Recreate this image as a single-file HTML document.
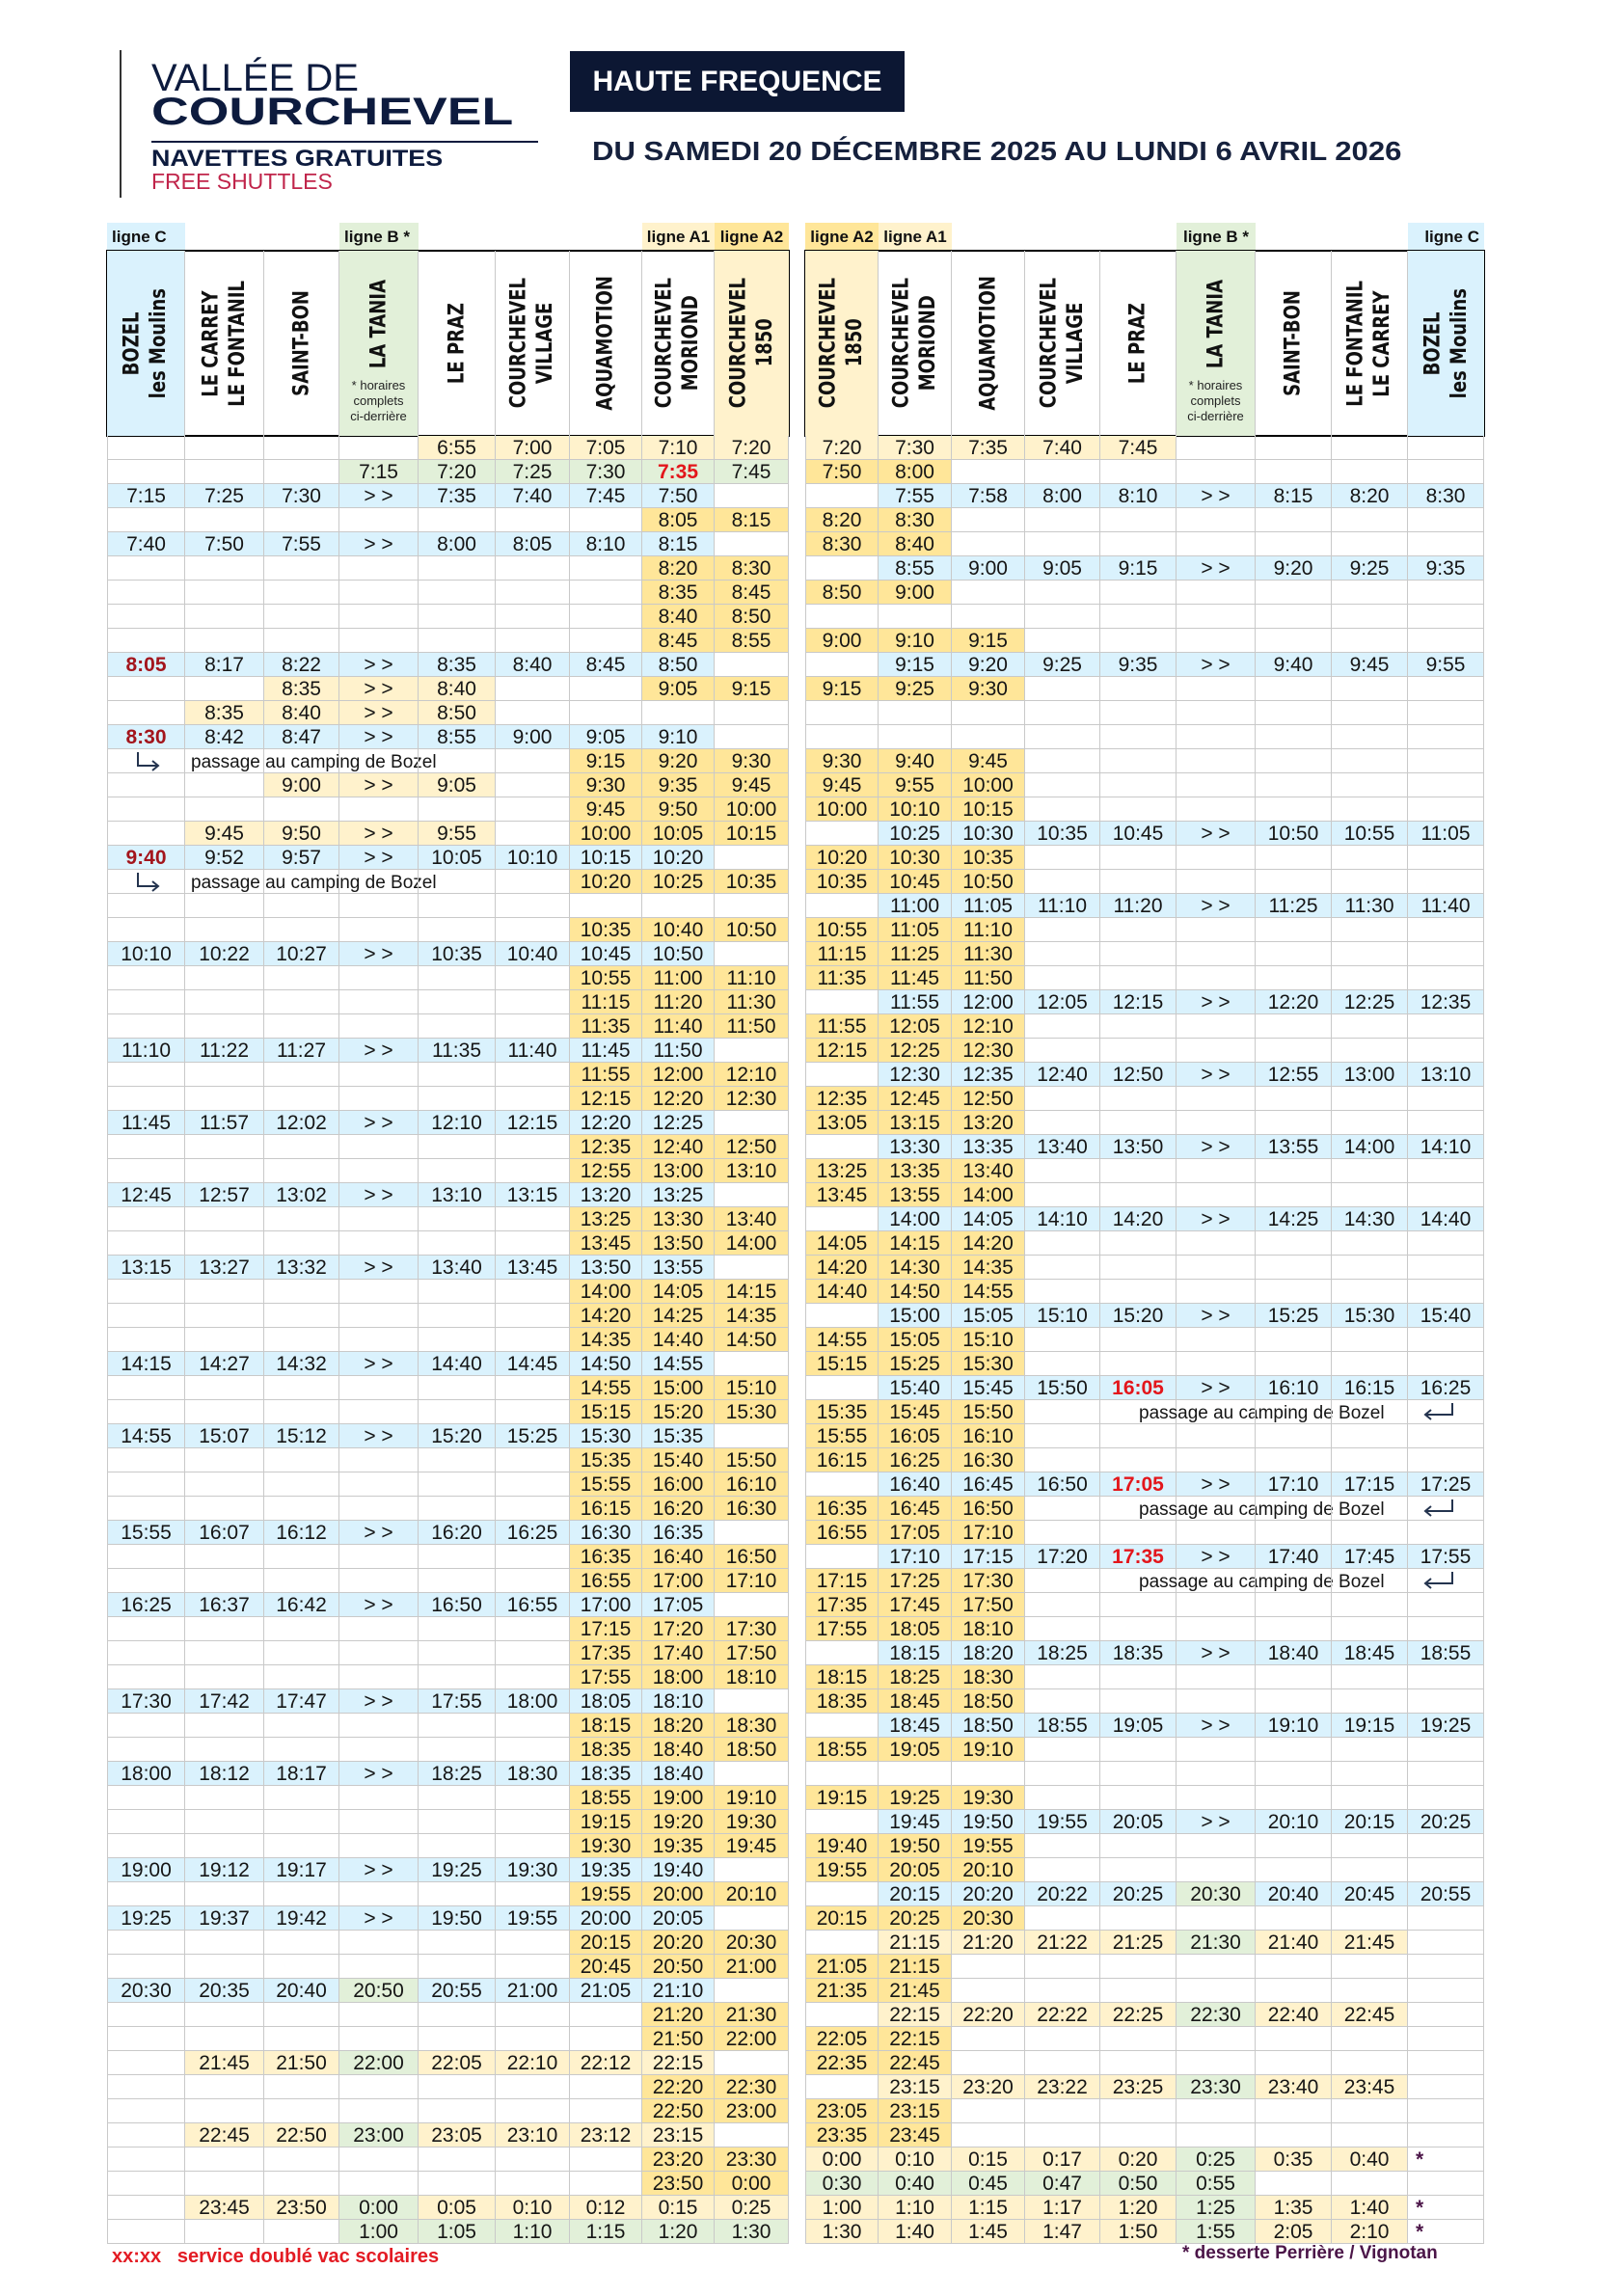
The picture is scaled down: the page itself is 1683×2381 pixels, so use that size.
<!DOCTYPE html>
<html><head><meta charset="utf-8">
<style>
*{margin:0;padding:0;box-sizing:border-box}
body{width:1683px;height:2381px;background:#fff;position:relative;overflow:hidden;font-family:"Liberation Sans",sans-serif;color:#111}
.a{position:absolute;white-space:nowrap}
.t{position:absolute;top:452px;display:grid;grid-auto-rows:25px}
#L,#LH{left:111px;grid-template-columns:81px 82px 78px 82px 80px 77px 75px 75px 77px}
#R,#RH{left:835px;grid-template-columns:76px 76px 76px 78px 79px 82px 79px 79px 79px}
.t i{display:block;font-style:normal;border-right:1px solid #c9c9c9;border-bottom:1px solid #c9c9c9;font:21px/25px "Liberation Sans",sans-serif;text-align:center;color:#151515;white-space:nowrap;overflow:visible}
.t i:nth-child(9n+1){border-left:1px solid #c9c9c9}
.u{background:#daf2fd}.y{background:#fff2cc}.Y{background:#ffe699}.g{background:#e2f0d9}
.t i.r{color:#a3151c;font-weight:bold}
.t i.R{color:#e3161b;font-weight:bold}
.t i.ps{text-align:left;padding-left:6px;font-size:19px;line-height:28px}
.t i.pr{text-align:left;padding-left:40px;font-size:19px;line-height:28px}
.t i.st{text-align:left;padding-left:8px;color:#4b1548;font-weight:bold}
.h{position:absolute;top:260px;height:192px;display:grid;outline:2px solid #000;outline-offset:-1px}
.h>div{border-right:1px solid #c9c9c9;display:flex;flex-direction:column;align-items:center;justify-content:center;position:relative}
.h>div:last-child{border-right:none}
.v{writing-mode:vertical-rl;transform:rotate(180deg) scaleX(1.25);font:bold 18px/22px "DejaVu Sans",sans-serif;text-align:center;white-space:nowrap;color:#111}
.fn{font:13px/16px "Liberation Sans",sans-serif;text-align:center;color:#222;margin-top:10px}
.lb{position:absolute;top:231px;height:29px;font:bold 17px/29px "Liberation Sans",sans-serif;color:#111;white-space:nowrap}
</style></head><body>

<div class="a" style="left:124px;top:52px;width:2px;height:153px;background:#333"></div>
<div class="a" style="left:157px;top:61px;font:40px/40px 'Liberation Sans',sans-serif;color:#0d1b3e">VALLÉE DE</div>
<div class="a" style="left:157px;top:96px;font:bold 40px/40px 'Liberation Sans',sans-serif;color:#0d1b3e;transform:scaleX(1.34);transform-origin:left">COURCHEVEL</div>
<div class="a" style="left:157px;top:146px;width:401px;height:2px;background:#0d1b3e"></div>
<div class="a" style="left:157px;top:153px;font:bold 24px/24px 'Liberation Sans',sans-serif;color:#0d1b3e;transform:scaleX(1.12);transform-origin:left">NAVETTES GRATUITES</div>
<div class="a" style="left:157px;top:177px;font:23px/23px 'Liberation Sans',sans-serif;color:#c0244a">FREE SHUTTLES</div>

<div class="a" style="left:591px;top:53px;width:347px;height:63px;background:#0c1733;color:#fff;font:bold 30px/63px 'Liberation Sans',sans-serif;text-align:center">HAUTE FREQUENCE</div>
<div class="a" style="left:614px;top:143px;font:bold 28px/28px 'Liberation Sans',sans-serif;color:#16213d;transform:scaleX(1.11);transform-origin:left">DU SAMEDI 20 DÉCEMBRE 2025 AU LUNDI 6 AVRIL 2026</div>

<div class="lb u" style="left:111px;width:81px;padding-left:5px">ligne C</div>
<div class="lb g" style="left:352px;width:82px;padding-left:5px">ligne B *</div>
<div class="lb y" style="left:666px;width:75px;text-align:center">ligne A1</div>
<div class="lb Y" style="left:741px;width:77px;text-align:center">ligne A2</div>
<div class="lb Y" style="left:835px;width:76px;text-align:center">ligne A2</div>
<div class="lb y" style="left:911px;width:76px;text-align:center">ligne A1</div>
<div class="lb g" style="left:1220px;width:82px;text-align:center">ligne B *</div>
<div class="lb u" style="left:1460px;width:79px;text-align:right;padding-right:5px">ligne C</div>

<div class="h" id="LH" style="width:707px">
<div class="u"><div class="v">BOZEL<br>les Moulins</div></div>
<div><div class="v">LE CARREY<br>LE FONTANIL</div></div>
<div><div class="v">SAINT-BON</div></div>
<div class="g"><div class="v" style="margin-top:18px">LA TANIA</div><div class="fn">* horaires<br>complets<br>ci-derrière</div></div>
<div><div class="v">LE PRAZ</div></div>
<div><div class="v">COURCHEVEL<br>VILLAGE</div></div>
<div><div class="v">AQUAMOTION</div></div>
<div><div class="v">COURCHEVEL<br>MORIOND</div></div>
<div class="y"><div class="v">COURCHEVEL<br>1850</div></div>
</div>
<div class="h" id="RH" style="width:704px">
<div class="y"><div class="v">COURCHEVEL<br>1850</div></div>
<div><div class="v">COURCHEVEL<br>MORIOND</div></div>
<div><div class="v">AQUAMOTION</div></div>
<div><div class="v">COURCHEVEL<br>VILLAGE</div></div>
<div><div class="v">LE PRAZ</div></div>
<div class="g"><div class="v" style="margin-top:18px">LA TANIA</div><div class="fn">* horaires<br>complets<br>ci-derrière</div></div>
<div><div class="v">SAINT-BON</div></div>
<div><div class="v">LE FONTANIL<br>LE CARREY</div></div>
<div class="u"><div class="v">BOZEL<br>les Moulins</div></div>
</div>

<div class="t" id="L">
<i></i><i></i><i></i><i></i><i class=y>6:55</i><i class=y>7:00</i><i class=y>7:05</i><i class=y>7:10</i><i class=y>7:20</i>
<i></i><i></i><i></i><i class=g>7:15</i><i class=g>7:20</i><i class=g>7:25</i><i class=g>7:30</i><i class="g R">7:35</i><i class=g>7:45</i>
<i class=u>7:15</i><i class=u>7:25</i><i class=u>7:30</i><i class=u>&gt; &gt;</i><i class=u>7:35</i><i class=u>7:40</i><i class=u>7:45</i><i class=u>7:50</i><i></i>
<i></i><i></i><i></i><i></i><i></i><i></i><i></i><i class=Y>8:05</i><i class=Y>8:15</i>
<i class=u>7:40</i><i class=u>7:50</i><i class=u>7:55</i><i class=u>&gt; &gt;</i><i class=u>8:00</i><i class=u>8:05</i><i class=u>8:10</i><i class=u>8:15</i><i></i>
<i></i><i></i><i></i><i></i><i></i><i></i><i></i><i class=Y>8:20</i><i class=Y>8:30</i>
<i></i><i></i><i></i><i></i><i></i><i></i><i></i><i class=Y>8:35</i><i class=Y>8:45</i>
<i></i><i></i><i></i><i></i><i></i><i></i><i></i><i class=Y>8:40</i><i class=Y>8:50</i>
<i></i><i></i><i></i><i></i><i></i><i></i><i></i><i class=Y>8:45</i><i class=Y>8:55</i>
<i class="u r">8:05</i><i class=u>8:17</i><i class=u>8:22</i><i class=u>&gt; &gt;</i><i class=u>8:35</i><i class=u>8:40</i><i class=u>8:45</i><i class=u>8:50</i><i></i>
<i></i><i></i><i class=y>8:35</i><i class=y>&gt; &gt;</i><i class=y>8:40</i><i></i><i></i><i class=Y>9:05</i><i class=Y>9:15</i>
<i></i><i class=y>8:35</i><i class=y>8:40</i><i class=y>&gt; &gt;</i><i class=y>8:50</i><i></i><i></i><i></i><i></i>
<i class="u r">8:30</i><i class=u>8:42</i><i class=u>8:47</i><i class=u>&gt; &gt;</i><i class=u>8:55</i><i class=u>9:00</i><i class=u>9:05</i><i class=u>9:10</i><i></i>
<i><svg width="40" height="24" viewBox="0 0 40 24"><path d="M11 3V17H32M26 12L32 17L26 22" fill="none" stroke="#24344f" stroke-width="2"/></svg></i><i class=ps>passage au camping de Bozel</i><i></i><i></i><i></i><i></i><i class=Y>9:15</i><i class=Y>9:20</i><i class=Y>9:30</i>
<i></i><i></i><i class=y>9:00</i><i class=y>&gt; &gt;</i><i class=y>9:05</i><i></i><i class=Y>9:30</i><i class=Y>9:35</i><i class=Y>9:45</i>
<i></i><i></i><i></i><i></i><i></i><i></i><i class=Y>9:45</i><i class=Y>9:50</i><i class=Y>10:00</i>
<i></i><i class=y>9:45</i><i class=y>9:50</i><i class=y>&gt; &gt;</i><i class=y>9:55</i><i></i><i class=Y>10:00</i><i class=Y>10:05</i><i class=Y>10:15</i>
<i class="u r">9:40</i><i class=u>9:52</i><i class=u>9:57</i><i class=u>&gt; &gt;</i><i class=u>10:05</i><i class=u>10:10</i><i class=u>10:15</i><i class=u>10:20</i><i></i>
<i><svg width="40" height="24" viewBox="0 0 40 24"><path d="M11 3V17H32M26 12L32 17L26 22" fill="none" stroke="#24344f" stroke-width="2"/></svg></i><i class=ps>passage au camping de Bozel</i><i></i><i></i><i></i><i></i><i class=Y>10:20</i><i class=Y>10:25</i><i class=Y>10:35</i>
<i></i><i></i><i></i><i></i><i></i><i></i><i></i><i></i><i></i>
<i></i><i></i><i></i><i></i><i></i><i></i><i class=Y>10:35</i><i class=Y>10:40</i><i class=Y>10:50</i>
<i class=u>10:10</i><i class=u>10:22</i><i class=u>10:27</i><i class=u>&gt; &gt;</i><i class=u>10:35</i><i class=u>10:40</i><i class=u>10:45</i><i class=u>10:50</i><i></i>
<i></i><i></i><i></i><i></i><i></i><i></i><i class=Y>10:55</i><i class=Y>11:00</i><i class=Y>11:10</i>
<i></i><i></i><i></i><i></i><i></i><i></i><i class=Y>11:15</i><i class=Y>11:20</i><i class=Y>11:30</i>
<i></i><i></i><i></i><i></i><i></i><i></i><i class=Y>11:35</i><i class=Y>11:40</i><i class=Y>11:50</i>
<i class=u>11:10</i><i class=u>11:22</i><i class=u>11:27</i><i class=u>&gt; &gt;</i><i class=u>11:35</i><i class=u>11:40</i><i class=u>11:45</i><i class=u>11:50</i><i></i>
<i></i><i></i><i></i><i></i><i></i><i></i><i class=Y>11:55</i><i class=Y>12:00</i><i class=Y>12:10</i>
<i></i><i></i><i></i><i></i><i></i><i></i><i class=Y>12:15</i><i class=Y>12:20</i><i class=Y>12:30</i>
<i class=u>11:45</i><i class=u>11:57</i><i class=u>12:02</i><i class=u>&gt; &gt;</i><i class=u>12:10</i><i class=u>12:15</i><i class=u>12:20</i><i class=u>12:25</i><i></i>
<i></i><i></i><i></i><i></i><i></i><i></i><i class=Y>12:35</i><i class=Y>12:40</i><i class=Y>12:50</i>
<i></i><i></i><i></i><i></i><i></i><i></i><i class=Y>12:55</i><i class=Y>13:00</i><i class=Y>13:10</i>
<i class=u>12:45</i><i class=u>12:57</i><i class=u>13:02</i><i class=u>&gt; &gt;</i><i class=u>13:10</i><i class=u>13:15</i><i class=u>13:20</i><i class=u>13:25</i><i></i>
<i></i><i></i><i></i><i></i><i></i><i></i><i class=Y>13:25</i><i class=Y>13:30</i><i class=Y>13:40</i>
<i></i><i></i><i></i><i></i><i></i><i></i><i class=Y>13:45</i><i class=Y>13:50</i><i class=Y>14:00</i>
<i class=u>13:15</i><i class=u>13:27</i><i class=u>13:32</i><i class=u>&gt; &gt;</i><i class=u>13:40</i><i class=u>13:45</i><i class=u>13:50</i><i class=u>13:55</i><i></i>
<i></i><i></i><i></i><i></i><i></i><i></i><i class=Y>14:00</i><i class=Y>14:05</i><i class=Y>14:15</i>
<i></i><i></i><i></i><i></i><i></i><i></i><i class=Y>14:20</i><i class=Y>14:25</i><i class=Y>14:35</i>
<i></i><i></i><i></i><i></i><i></i><i></i><i class=Y>14:35</i><i class=Y>14:40</i><i class=Y>14:50</i>
<i class=u>14:15</i><i class=u>14:27</i><i class=u>14:32</i><i class=u>&gt; &gt;</i><i class=u>14:40</i><i class=u>14:45</i><i class=u>14:50</i><i class=u>14:55</i><i></i>
<i></i><i></i><i></i><i></i><i></i><i></i><i class=Y>14:55</i><i class=Y>15:00</i><i class=Y>15:10</i>
<i></i><i></i><i></i><i></i><i></i><i></i><i class=Y>15:15</i><i class=Y>15:20</i><i class=Y>15:30</i>
<i class=u>14:55</i><i class=u>15:07</i><i class=u>15:12</i><i class=u>&gt; &gt;</i><i class=u>15:20</i><i class=u>15:25</i><i class=u>15:30</i><i class=u>15:35</i><i></i>
<i></i><i></i><i></i><i></i><i></i><i></i><i class=Y>15:35</i><i class=Y>15:40</i><i class=Y>15:50</i>
<i></i><i></i><i></i><i></i><i></i><i></i><i class=Y>15:55</i><i class=Y>16:00</i><i class=Y>16:10</i>
<i></i><i></i><i></i><i></i><i></i><i></i><i class=Y>16:15</i><i class=Y>16:20</i><i class=Y>16:30</i>
<i class=u>15:55</i><i class=u>16:07</i><i class=u>16:12</i><i class=u>&gt; &gt;</i><i class=u>16:20</i><i class=u>16:25</i><i class=u>16:30</i><i class=u>16:35</i><i></i>
<i></i><i></i><i></i><i></i><i></i><i></i><i class=Y>16:35</i><i class=Y>16:40</i><i class=Y>16:50</i>
<i></i><i></i><i></i><i></i><i></i><i></i><i class=Y>16:55</i><i class=Y>17:00</i><i class=Y>17:10</i>
<i class=u>16:25</i><i class=u>16:37</i><i class=u>16:42</i><i class=u>&gt; &gt;</i><i class=u>16:50</i><i class=u>16:55</i><i class=u>17:00</i><i class=u>17:05</i><i></i>
<i></i><i></i><i></i><i></i><i></i><i></i><i class=Y>17:15</i><i class=Y>17:20</i><i class=Y>17:30</i>
<i></i><i></i><i></i><i></i><i></i><i></i><i class=Y>17:35</i><i class=Y>17:40</i><i class=Y>17:50</i>
<i></i><i></i><i></i><i></i><i></i><i></i><i class=Y>17:55</i><i class=Y>18:00</i><i class=Y>18:10</i>
<i class=u>17:30</i><i class=u>17:42</i><i class=u>17:47</i><i class=u>&gt; &gt;</i><i class=u>17:55</i><i class=u>18:00</i><i class=u>18:05</i><i class=u>18:10</i><i></i>
<i></i><i></i><i></i><i></i><i></i><i></i><i class=Y>18:15</i><i class=Y>18:20</i><i class=Y>18:30</i>
<i></i><i></i><i></i><i></i><i></i><i></i><i class=Y>18:35</i><i class=Y>18:40</i><i class=Y>18:50</i>
<i class=u>18:00</i><i class=u>18:12</i><i class=u>18:17</i><i class=u>&gt; &gt;</i><i class=u>18:25</i><i class=u>18:30</i><i class=u>18:35</i><i class=u>18:40</i><i></i>
<i></i><i></i><i></i><i></i><i></i><i></i><i class=Y>18:55</i><i class=Y>19:00</i><i class=Y>19:10</i>
<i></i><i></i><i></i><i></i><i></i><i></i><i class=Y>19:15</i><i class=Y>19:20</i><i class=Y>19:30</i>
<i></i><i></i><i></i><i></i><i></i><i></i><i class=Y>19:30</i><i class=Y>19:35</i><i class=Y>19:45</i>
<i class=u>19:00</i><i class=u>19:12</i><i class=u>19:17</i><i class=u>&gt; &gt;</i><i class=u>19:25</i><i class=u>19:30</i><i class=u>19:35</i><i class=u>19:40</i><i></i>
<i></i><i></i><i></i><i></i><i></i><i></i><i class=Y>19:55</i><i class=Y>20:00</i><i class=Y>20:10</i>
<i class=u>19:25</i><i class=u>19:37</i><i class=u>19:42</i><i class=u>&gt; &gt;</i><i class=u>19:50</i><i class=u>19:55</i><i class=u>20:00</i><i class=u>20:05</i><i></i>
<i></i><i></i><i></i><i></i><i></i><i></i><i class=Y>20:15</i><i class=Y>20:20</i><i class=Y>20:30</i>
<i></i><i></i><i></i><i></i><i></i><i></i><i class=Y>20:45</i><i class=Y>20:50</i><i class=Y>21:00</i>
<i class=u>20:30</i><i class=u>20:35</i><i class=u>20:40</i><i class=g>20:50</i><i class=u>20:55</i><i class=u>21:00</i><i class=u>21:05</i><i class=u>21:10</i><i></i>
<i></i><i></i><i></i><i></i><i></i><i></i><i></i><i class=Y>21:20</i><i class=Y>21:30</i>
<i></i><i></i><i></i><i></i><i></i><i></i><i></i><i class=Y>21:50</i><i class=Y>22:00</i>
<i></i><i class=y>21:45</i><i class=y>21:50</i><i class=g>22:00</i><i class=y>22:05</i><i class=y>22:10</i><i class=y>22:12</i><i class=y>22:15</i><i></i>
<i></i><i></i><i></i><i></i><i></i><i></i><i></i><i class=Y>22:20</i><i class=Y>22:30</i>
<i></i><i></i><i></i><i></i><i></i><i></i><i></i><i class=Y>22:50</i><i class=Y>23:00</i>
<i></i><i class=y>22:45</i><i class=y>22:50</i><i class=g>23:00</i><i class=y>23:05</i><i class=y>23:10</i><i class=y>23:12</i><i class=y>23:15</i><i></i>
<i></i><i></i><i></i><i></i><i></i><i></i><i></i><i class=Y>23:20</i><i class=Y>23:30</i>
<i></i><i></i><i></i><i></i><i></i><i></i><i></i><i class=Y>23:50</i><i class=Y>0:00</i>
<i></i><i class=y>23:45</i><i class=y>23:50</i><i class=g>0:00</i><i class=y>0:05</i><i class=y>0:10</i><i class=y>0:12</i><i class=y>0:15</i><i class=y>0:25</i>
<i></i><i></i><i></i><i class=g>1:00</i><i class=g>1:05</i><i class=g>1:10</i><i class=g>1:15</i><i class=g>1:20</i><i class=g>1:30</i>
</div>

<div class="t" id="R">
<i class=y>7:20</i><i class=y>7:30</i><i class=y>7:35</i><i class=y>7:40</i><i class=y>7:45</i><i></i><i></i><i></i><i></i>
<i class=Y>7:50</i><i class=Y>8:00</i><i></i><i></i><i></i><i></i><i></i><i></i><i></i>
<i></i><i class=u>7:55</i><i class=u>7:58</i><i class=u>8:00</i><i class=u>8:10</i><i class=u>&gt; &gt;</i><i class=u>8:15</i><i class=u>8:20</i><i class=u>8:30</i>
<i class=Y>8:20</i><i class=Y>8:30</i><i></i><i></i><i></i><i></i><i></i><i></i><i></i>
<i class=Y>8:30</i><i class=Y>8:40</i><i></i><i></i><i></i><i></i><i></i><i></i><i></i>
<i></i><i class=u>8:55</i><i class=u>9:00</i><i class=u>9:05</i><i class=u>9:15</i><i class=u>&gt; &gt;</i><i class=u>9:20</i><i class=u>9:25</i><i class=u>9:35</i>
<i class=Y>8:50</i><i class=Y>9:00</i><i></i><i></i><i></i><i></i><i></i><i></i><i></i>
<i></i><i></i><i></i><i></i><i></i><i></i><i></i><i></i><i></i>
<i class=Y>9:00</i><i class=Y>9:10</i><i class=Y>9:15</i><i></i><i></i><i></i><i></i><i></i><i></i>
<i></i><i class=u>9:15</i><i class=u>9:20</i><i class=u>9:25</i><i class=u>9:35</i><i class=u>&gt; &gt;</i><i class=u>9:40</i><i class=u>9:45</i><i class=u>9:55</i>
<i class=Y>9:15</i><i class=Y>9:25</i><i class=Y>9:30</i><i></i><i></i><i></i><i></i><i></i><i></i>
<i></i><i></i><i></i><i></i><i></i><i></i><i></i><i></i><i></i>
<i></i><i></i><i></i><i></i><i></i><i></i><i></i><i></i><i></i>
<i class=Y>9:30</i><i class=Y>9:40</i><i class=Y>9:45</i><i></i><i></i><i></i><i></i><i></i><i></i>
<i class=Y>9:45</i><i class=Y>9:55</i><i class=Y>10:00</i><i></i><i></i><i></i><i></i><i></i><i></i>
<i class=Y>10:00</i><i class=Y>10:10</i><i class=Y>10:15</i><i></i><i></i><i></i><i></i><i></i><i></i>
<i></i><i class=u>10:25</i><i class=u>10:30</i><i class=u>10:35</i><i class=u>10:45</i><i class=u>&gt; &gt;</i><i class=u>10:50</i><i class=u>10:55</i><i class=u>11:05</i>
<i class=Y>10:20</i><i class=Y>10:30</i><i class=Y>10:35</i><i></i><i></i><i></i><i></i><i></i><i></i>
<i class=Y>10:35</i><i class=Y>10:45</i><i class=Y>10:50</i><i></i><i></i><i></i><i></i><i></i><i></i>
<i></i><i class=u>11:00</i><i class=u>11:05</i><i class=u>11:10</i><i class=u>11:20</i><i class=u>&gt; &gt;</i><i class=u>11:25</i><i class=u>11:30</i><i class=u>11:40</i>
<i class=Y>10:55</i><i class=Y>11:05</i><i class=Y>11:10</i><i></i><i></i><i></i><i></i><i></i><i></i>
<i class=Y>11:15</i><i class=Y>11:25</i><i class=Y>11:30</i><i></i><i></i><i></i><i></i><i></i><i></i>
<i class=Y>11:35</i><i class=Y>11:45</i><i class=Y>11:50</i><i></i><i></i><i></i><i></i><i></i><i></i>
<i></i><i class=u>11:55</i><i class=u>12:00</i><i class=u>12:05</i><i class=u>12:15</i><i class=u>&gt; &gt;</i><i class=u>12:20</i><i class=u>12:25</i><i class=u>12:35</i>
<i class=Y>11:55</i><i class=Y>12:05</i><i class=Y>12:10</i><i></i><i></i><i></i><i></i><i></i><i></i>
<i class=Y>12:15</i><i class=Y>12:25</i><i class=Y>12:30</i><i></i><i></i><i></i><i></i><i></i><i></i>
<i></i><i class=u>12:30</i><i class=u>12:35</i><i class=u>12:40</i><i class=u>12:50</i><i class=u>&gt; &gt;</i><i class=u>12:55</i><i class=u>13:00</i><i class=u>13:10</i>
<i class=Y>12:35</i><i class=Y>12:45</i><i class=Y>12:50</i><i></i><i></i><i></i><i></i><i></i><i></i>
<i class=Y>13:05</i><i class=Y>13:15</i><i class=Y>13:20</i><i></i><i></i><i></i><i></i><i></i><i></i>
<i></i><i class=u>13:30</i><i class=u>13:35</i><i class=u>13:40</i><i class=u>13:50</i><i class=u>&gt; &gt;</i><i class=u>13:55</i><i class=u>14:00</i><i class=u>14:10</i>
<i class=Y>13:25</i><i class=Y>13:35</i><i class=Y>13:40</i><i></i><i></i><i></i><i></i><i></i><i></i>
<i class=Y>13:45</i><i class=Y>13:55</i><i class=Y>14:00</i><i></i><i></i><i></i><i></i><i></i><i></i>
<i></i><i class=u>14:00</i><i class=u>14:05</i><i class=u>14:10</i><i class=u>14:20</i><i class=u>&gt; &gt;</i><i class=u>14:25</i><i class=u>14:30</i><i class=u>14:40</i>
<i class=Y>14:05</i><i class=Y>14:15</i><i class=Y>14:20</i><i></i><i></i><i></i><i></i><i></i><i></i>
<i class=Y>14:20</i><i class=Y>14:30</i><i class=Y>14:35</i><i></i><i></i><i></i><i></i><i></i><i></i>
<i class=Y>14:40</i><i class=Y>14:50</i><i class=Y>14:55</i><i></i><i></i><i></i><i></i><i></i><i></i>
<i></i><i class=u>15:00</i><i class=u>15:05</i><i class=u>15:10</i><i class=u>15:20</i><i class=u>&gt; &gt;</i><i class=u>15:25</i><i class=u>15:30</i><i class=u>15:40</i>
<i class=Y>14:55</i><i class=Y>15:05</i><i class=Y>15:10</i><i></i><i></i><i></i><i></i><i></i><i></i>
<i class=Y>15:15</i><i class=Y>15:25</i><i class=Y>15:30</i><i></i><i></i><i></i><i></i><i></i><i></i>
<i></i><i class=u>15:40</i><i class=u>15:45</i><i class=u>15:50</i><i class="u R">16:05</i><i class=u>&gt; &gt;</i><i class=u>16:10</i><i class=u>16:15</i><i class=u>16:25</i>
<i class=Y>15:35</i><i class=Y>15:45</i><i class=Y>15:50</i><i></i><i class=pr>passage au camping de Bozel</i><i></i><i></i><i></i><i><svg width="70" height="24" viewBox="0 0 70 24"><path d="M42 3V15H14M20 10L14 15L20 20" fill="none" stroke="#24344f" stroke-width="2"/></svg></i>
<i class=Y>15:55</i><i class=Y>16:05</i><i class=Y>16:10</i><i></i><i></i><i></i><i></i><i></i><i></i>
<i class=Y>16:15</i><i class=Y>16:25</i><i class=Y>16:30</i><i></i><i></i><i></i><i></i><i></i><i></i>
<i></i><i class=u>16:40</i><i class=u>16:45</i><i class=u>16:50</i><i class="u R">17:05</i><i class=u>&gt; &gt;</i><i class=u>17:10</i><i class=u>17:15</i><i class=u>17:25</i>
<i class=Y>16:35</i><i class=Y>16:45</i><i class=Y>16:50</i><i></i><i class=pr>passage au camping de Bozel</i><i></i><i></i><i></i><i><svg width="70" height="24" viewBox="0 0 70 24"><path d="M42 3V15H14M20 10L14 15L20 20" fill="none" stroke="#24344f" stroke-width="2"/></svg></i>
<i class=Y>16:55</i><i class=Y>17:05</i><i class=Y>17:10</i><i></i><i></i><i></i><i></i><i></i><i></i>
<i></i><i class=u>17:10</i><i class=u>17:15</i><i class=u>17:20</i><i class="u R">17:35</i><i class=u>&gt; &gt;</i><i class=u>17:40</i><i class=u>17:45</i><i class=u>17:55</i>
<i class=Y>17:15</i><i class=Y>17:25</i><i class=Y>17:30</i><i></i><i class=pr>passage au camping de Bozel</i><i></i><i></i><i></i><i><svg width="70" height="24" viewBox="0 0 70 24"><path d="M42 3V15H14M20 10L14 15L20 20" fill="none" stroke="#24344f" stroke-width="2"/></svg></i>
<i class=Y>17:35</i><i class=Y>17:45</i><i class=Y>17:50</i><i></i><i></i><i></i><i></i><i></i><i></i>
<i class=Y>17:55</i><i class=Y>18:05</i><i class=Y>18:10</i><i></i><i></i><i></i><i></i><i></i><i></i>
<i></i><i class=u>18:15</i><i class=u>18:20</i><i class=u>18:25</i><i class=u>18:35</i><i class=u>&gt; &gt;</i><i class=u>18:40</i><i class=u>18:45</i><i class=u>18:55</i>
<i class=Y>18:15</i><i class=Y>18:25</i><i class=Y>18:30</i><i></i><i></i><i></i><i></i><i></i><i></i>
<i class=Y>18:35</i><i class=Y>18:45</i><i class=Y>18:50</i><i></i><i></i><i></i><i></i><i></i><i></i>
<i></i><i class=u>18:45</i><i class=u>18:50</i><i class=u>18:55</i><i class=u>19:05</i><i class=u>&gt; &gt;</i><i class=u>19:10</i><i class=u>19:15</i><i class=u>19:25</i>
<i class=Y>18:55</i><i class=Y>19:05</i><i class=Y>19:10</i><i></i><i></i><i></i><i></i><i></i><i></i>
<i></i><i></i><i></i><i></i><i></i><i></i><i></i><i></i><i></i>
<i class=Y>19:15</i><i class=Y>19:25</i><i class=Y>19:30</i><i></i><i></i><i></i><i></i><i></i><i></i>
<i></i><i class=u>19:45</i><i class=u>19:50</i><i class=u>19:55</i><i class=u>20:05</i><i class=u>&gt; &gt;</i><i class=u>20:10</i><i class=u>20:15</i><i class=u>20:25</i>
<i class=Y>19:40</i><i class=Y>19:50</i><i class=Y>19:55</i><i></i><i></i><i></i><i></i><i></i><i></i>
<i class=Y>19:55</i><i class=Y>20:05</i><i class=Y>20:10</i><i></i><i></i><i></i><i></i><i></i><i></i>
<i></i><i class=u>20:15</i><i class=u>20:20</i><i class=u>20:22</i><i class=u>20:25</i><i class=g>20:30</i><i class=u>20:40</i><i class=u>20:45</i><i class=u>20:55</i>
<i class=Y>20:15</i><i class=Y>20:25</i><i class=Y>20:30</i><i></i><i></i><i></i><i></i><i></i><i></i>
<i></i><i class=y>21:15</i><i class=y>21:20</i><i class=y>21:22</i><i class=y>21:25</i><i class=g>21:30</i><i class=y>21:40</i><i class=y>21:45</i><i></i>
<i class=Y>21:05</i><i class=Y>21:15</i><i></i><i></i><i></i><i></i><i></i><i></i><i></i>
<i class=Y>21:35</i><i class=Y>21:45</i><i></i><i></i><i></i><i></i><i></i><i></i><i></i>
<i></i><i class=y>22:15</i><i class=y>22:20</i><i class=y>22:22</i><i class=y>22:25</i><i class=g>22:30</i><i class=y>22:40</i><i class=y>22:45</i><i></i>
<i class=Y>22:05</i><i class=Y>22:15</i><i></i><i></i><i></i><i></i><i></i><i></i><i></i>
<i class=Y>22:35</i><i class=Y>22:45</i><i></i><i></i><i></i><i></i><i></i><i></i><i></i>
<i></i><i class=y>23:15</i><i class=y>23:20</i><i class=y>23:22</i><i class=y>23:25</i><i class=g>23:30</i><i class=y>23:40</i><i class=y>23:45</i><i></i>
<i class=Y>23:05</i><i class=Y>23:15</i><i></i><i></i><i></i><i></i><i></i><i></i><i></i>
<i class=Y>23:35</i><i class=Y>23:45</i><i></i><i></i><i></i><i></i><i></i><i></i><i></i>
<i class=y>0:00</i><i class=y>0:10</i><i class=y>0:15</i><i class=y>0:17</i><i class=y>0:20</i><i class=g>0:25</i><i class=y>0:35</i><i class=y>0:40</i><i class=st>*</i>
<i class=g>0:30</i><i class=g>0:40</i><i class=g>0:45</i><i class=g>0:47</i><i class=g>0:50</i><i class=g>0:55</i><i></i><i></i><i></i>
<i class=y>1:00</i><i class=y>1:10</i><i class=y>1:15</i><i class=y>1:17</i><i class=y>1:20</i><i class=g>1:25</i><i class=y>1:35</i><i class=y>1:40</i><i class=st>*</i>
<i class=y>1:30</i><i class=y>1:40</i><i class=y>1:45</i><i class=y>1:47</i><i class=y>1:50</i><i class=g>1:55</i><i class=y>2:05</i><i class=y>2:10</i><i class=st>*</i>
</div>

<div class="a" style="left:116px;top:2329px;font:bold 20px/22px 'Liberation Sans',sans-serif;color:#e31b23">xx:xx&nbsp;&nbsp; service doublé vac scolaires</div>
<div class="a" style="left:1226px;top:2326px;font:bold 19px/22px 'Liberation Sans',sans-serif;color:#4b1548">* desserte Perrière / Vignotan</div>
</body></html>
